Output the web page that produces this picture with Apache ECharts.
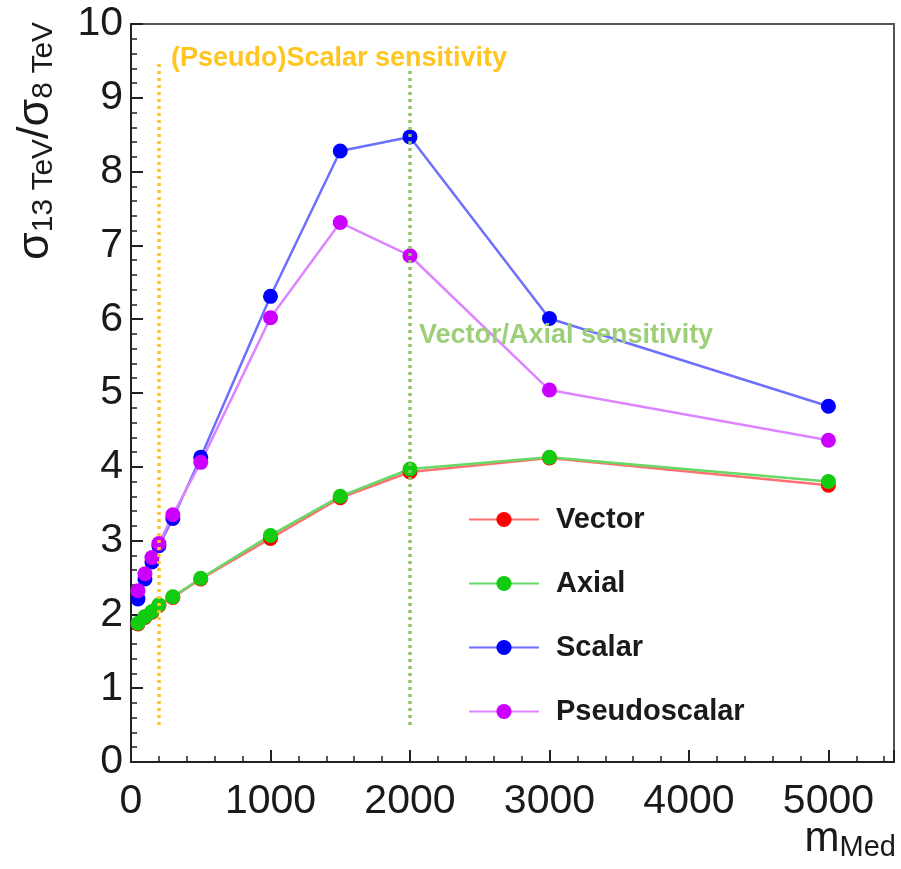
<!DOCTYPE html>
<html>
<head>
<meta charset="utf-8">
<script src="https://cdn.jsdelivr.net/npm/echarts@6/dist/echarts.min.js"></script>
<style>
  html, body { margin: 0; padding: 0; background: #ffffff; }
  #chart { width: 901px; height: 869px; }
</style>
</head>
<body>
<div id="chart"></div>
<script>
// Mediator masses (GeV)
const massPoints = [50, 100, 150, 200, 300, 500, 1000, 1500, 2000, 3000, 5000];

// Cross-section ratio sigma(13 TeV) / sigma(8 TeV) per mediator type
const vectorRatio       = [1.87, 1.96, 2.03, 2.12, 2.23, 2.48, 3.03, 3.58, 3.93, 4.12, 3.75];
const axialRatio        = [1.88, 1.97, 2.04, 2.13, 2.24, 2.49, 3.07, 3.60, 3.97, 4.13, 3.80];
const scalarRatio       = [2.21, 2.48, 2.71, 2.93, 3.30, 4.13, 6.31, 8.28, 8.47, 6.01, 4.82];
const pseudoscalarRatio = [2.32, 2.55, 2.77, 2.96, 3.35, 4.06, 6.02, 7.31, 6.86, 5.04, 4.36];

// Sensitivity markers: mediator mass and vertical extent
const scalarSensitivityMass = 200;
const vectorSensitivityMass = 2000;
const scalarSensitivitySpan = [0.5, 9.5];
const vectorSensitivitySpan = [0.5, 9.4];

const FONT = '"Liberation Sans", Arial, Helvetica, sans-serif';

function pairs(xs, ys) {
  return xs.map((x, i) => [x, ys[i]]);
}

function ratioSeries(name, values, markerColor, lineColor) {
  return {
    name: name,
    type: 'line',
    data: pairs(massPoints, values),
    symbol: 'circle',
    symbolSize: 15,
    itemStyle: { color: markerColor },
    lineStyle: { color: lineColor, width: 2.5 },
    emphasis: { disabled: true }
  };
}

const chart = echarts.init(document.getElementById('chart'), null, { renderer: 'canvas' });

const tickColor = '#222222';

chart.setOption({
  animation: false,
  backgroundColor: '#ffffff',
  grid: {
    left: 131, top: 24, width: 763, height: 738,
    show: true, borderColor: '#555555', borderWidth: 2,
    containLabel: false, outerBoundsMode: 'none'
  },
  xAxis: {
    type: 'value',
    min: 0, max: 5470, interval: 1000,
    axisLine: { show: true, onZero: false, lineStyle: { color: tickColor, width: 2 } },
    axisTick: { show: true, inside: true, length: 12, lineStyle: { color: tickColor, width: 2 } },
    minorTick: { show: true, splitNumber: 5, length: 6, lineStyle: { color: tickColor, width: 1.5 } },
    splitLine: { show: false },
    axisLabel: {
      fontFamily: FONT, fontSize: 41, color: '#1a1a1a', margin: 19,
      showMaxLabel: false,
      formatter: v => String(v)
    }
  },
  yAxis: {
    type: 'value',
    min: 0, max: 10, interval: 1,
    axisLine: { show: true, onZero: false, lineStyle: { color: tickColor, width: 2 } },
    axisTick: { show: true, inside: true, length: 12, lineStyle: { color: tickColor, width: 2 } },
    minorTick: { show: true, splitNumber: 5, length: 6, lineStyle: { color: tickColor, width: 1.5 } },
    splitLine: { show: false },
    axisLabel: {
      fontFamily: FONT, fontSize: 41, color: '#1a1a1a', margin: 8,
      formatter: v => String(v)
    }
  },
  legend: {
    data: ['Vector', 'Axial', 'Scalar', 'Pseudoscalar'],
    orient: 'vertical',
    left: 463, top: 500,
    itemWidth: 70, itemHeight: 19, itemGap: 35,
    selectedMode: false,
    textStyle: {
      fontFamily: FONT, fontSize: 29, fontWeight: 'bold', color: '#1a1a1a',
      padding: [0, 0, 0, 12]
    }
  },
  series: [
    ratioSeries('Vector', vectorRatio, '#ff0000', '#ff7070'),
    ratioSeries('Axial', axialRatio, '#11cc11', '#66d966'),
    ratioSeries('Scalar', scalarRatio, '#0000ff', '#6f6fff'),
    ratioSeries('Pseudoscalar', pseudoscalarRatio, '#cc00ff', '#dd85ff'),
    {
      name: 'sensitivity',
      type: 'line',
      data: [],
      silent: true,
      z: 10,
      markLine: {
        silent: true,
        symbol: ['none', 'none'],
        label: { show: false },
        emphasis: { disabled: true },
        data: [
          [
            { coord: [scalarSensitivityMass, scalarSensitivitySpan[0]],
              lineStyle: { color: '#ffc520', type: [3, 4], width: 3.5 } },
            { coord: [scalarSensitivityMass, scalarSensitivitySpan[1]] }
          ],
          [
            { coord: [vectorSensitivityMass, vectorSensitivitySpan[0]],
              lineStyle: { color: '#8cc665', type: [3, 4], width: 3.5 } },
            { coord: [vectorSensitivityMass, vectorSensitivitySpan[1]] }
          ]
        ]
      }
    }
  ],
  graphic: [
    {
      type: 'text', left: 171, top: 45, z: 20,
      style: { text: '(Pseudo)Scalar sensitivity', fill: '#ffc520',
               font: 'bold 27px ' + FONT }
    },
    {
      type: 'text', left: 419, top: 322, z: 20,
      style: { text: 'Vector/Axial sensitivity', fill: '#9ccf78',
               font: 'bold 27px ' + FONT }
    },
    {
      // y-axis title: sigma_{13 TeV} / sigma_{8 TeV}
      type: 'text', x: 36, y: 141, rotation: Math.PI / 2, z: 20,
      style: {
        text: '{s|σ}{b|13 TeV}{s|/σ}{b|8 TeV}',
        align: 'center', verticalAlign: 'middle',
        fill: '#1a1a1a',
        rich: {
          s: { fontFamily: FONT, fontSize: 45, lineHeight: 46, verticalAlign: 'top', fill: '#1a1a1a' },
          b: { fontFamily: FONT, fontSize: 30, lineHeight: 8, verticalAlign: 'bottom', fill: '#1a1a1a' }
        }
      }
    },
    {
      // x-axis title: m_{Med}
      type: 'text', x: 896, y: 840, z: 20,
      style: {
        text: '{m|m}{b|Med}',
        align: 'right', verticalAlign: 'middle',
        fill: '#1a1a1a',
        rich: {
          m: { fontFamily: FONT, fontSize: 42, lineHeight: 44, verticalAlign: 'top', fill: '#1a1a1a' },
          b: { fontFamily: FONT, fontSize: 29, lineHeight: 14, verticalAlign: 'bottom', fill: '#1a1a1a' }
        }
      }
    }
  ]
});
</script>
</body>
</html>
